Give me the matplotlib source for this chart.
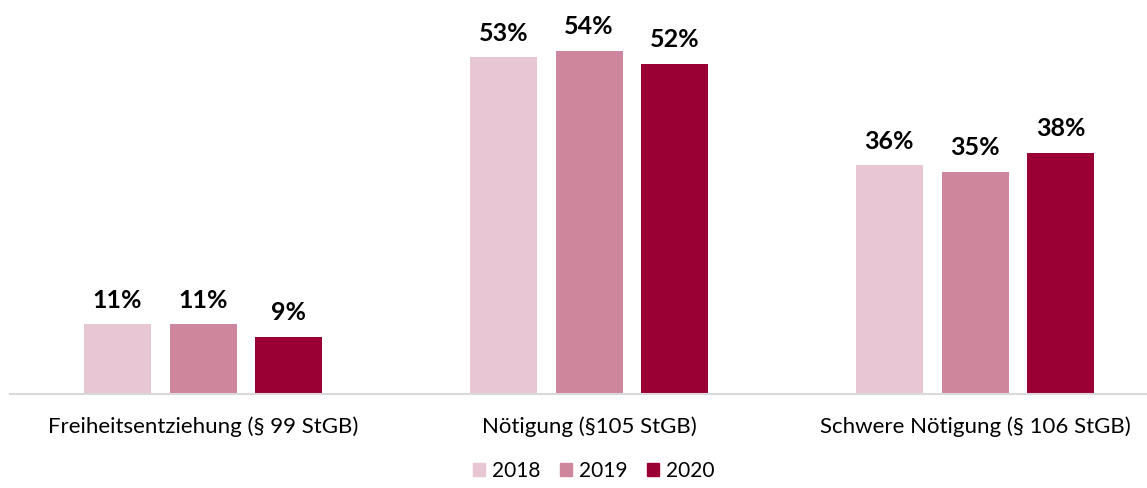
import matplotlib
matplotlib.use("Agg")
import matplotlib.pyplot as plt
import numpy as np
from matplotlib.patches import Patch

categories = ["Freiheitsentziehung (§ 99 StGB)", "Nötigung (§105 StGB)", "Schwere Nötigung (§ 106 StGB)"]
years = ["2018", "2019", "2020"]
values_2018 = [11, 53, 36]
values_2019 = [11, 54, 35]
values_2020 = [9, 52, 38]
series = [values_2018, values_2019, values_2020]
colors = ["#E9C6D3", "#CE869D", "#9B0034"]

plt.rcParams['font.family'] = ['Lato', 'DejaVu Sans']
W, H = 1147, 488
fig = plt.figure(figsize=(W/100, H/100), dpi=100)
ax = fig.add_axes([10/W, 94/H, 1136/W, 394/H])

x = np.arange(len(categories))
step = 85.7/386
width = 67/386
for i, (vals, col, yr) in enumerate(zip(series, colors, years)):
    pos = x + (i-1)*step
    bars = ax.bar(pos, vals, width, color=col, label=yr)
    for p, v in zip(pos, vals):
        ax.annotate(f"{v}%", (p, v), xytext=(0, 9), textcoords="offset points",
                    ha="center", va="bottom", fontsize=18, fontweight="bold")

ax.set_xlim(-0.5, 2.443)
ax.set_ylim(0, 62)
for s in ["top", "right", "left"]:
    ax.spines[s].set_visible(False)
ax.spines["bottom"].set_color("#D9D9D9")
ax.spines["bottom"].set_linewidth(1.5)
ax.set_yticks([])
ax.set_xticks(x)
ax.set_xticklabels(categories, fontsize=16)
ax.tick_params(axis="x", length=0, pad=16)

handles = [Patch(color=c, label=y) for c, y in zip(colors, years)]
fig.legend(handles=handles, loc="center", bbox_to_anchor=(593.5/W, 1 - 471/H), ncol=3,
           frameon=False, fontsize=15, handlelength=0.6, handleheight=0.6,
           handletextpad=0.3, columnspacing=0.95)

fig.savefig("out.png", dpi=100)
